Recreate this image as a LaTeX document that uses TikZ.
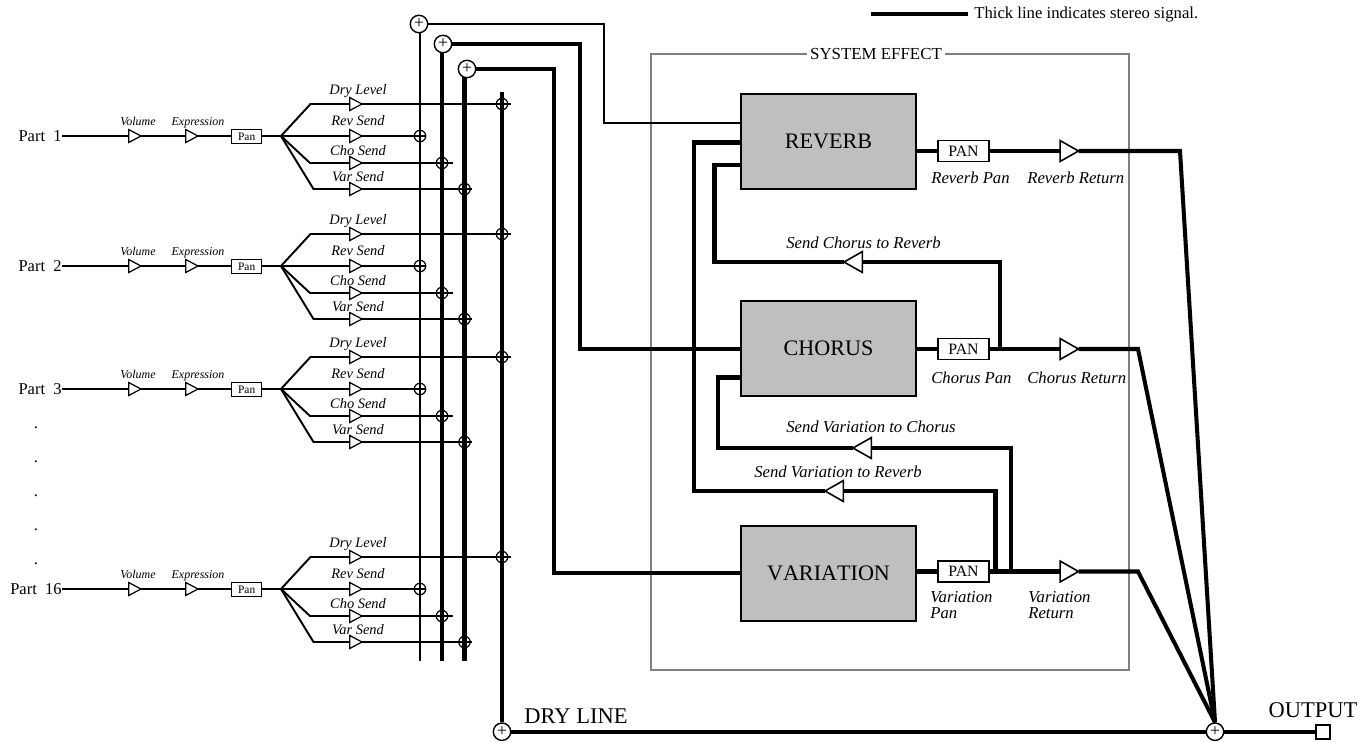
\documentclass[tikz,border=0pt]{standalone}
\usepackage{fontspec}
\setmainfont{Liberation Serif}
\usetikzlibrary{shapes.geometric}
\tikzset{
  wire/.style      = {line width=1.1pt},
  thickwire/.style = {line width=2.3pt},
  amp/.style       = {isosceles triangle, isosceles triangle stretches, draw, line width=0.7pt, fill=white,
                      inner sep=0pt, outer sep=0pt, minimum height=12.3*0.567pt, minimum width=13*0.567pt, anchor=apex},
  bigamp/.style    = {amp, line width=0.9pt, minimum height=18.5*0.567pt, minimum width=21*0.567pt},
  sum/.style       = {circle, draw, line width=0.8pt, fill=white, inner sep=0pt, minimum size=17.5*0.567pt,
                      font=\fontsize{10}{10}\selectfont},
  tap/.style       = {circle, draw, line width=0.7pt, inner sep=0pt, minimum size=11.5*0.567pt},
  fxblock/.style   = {draw, line width=1.0pt, fill=black!25, inner sep=0pt, minimum width=175*0.567pt,
                      minimum height=96*0.567pt, font=\fontsize{12.6}{12.6}\selectfont\addfontfeatures{Kerning=Off}},
  panbox/.style    = {draw, line width=1.0pt, fill=white, inner sep=0pt, minimum width=51*0.567pt,
                      minimum height=21*0.567pt, font=\fontsize{9}{9}\selectfont},
  smallpan/.style  = {draw, line width=0.7pt, fill=white, inner sep=0pt, minimum width=30*0.567pt,
                      minimum height=14*0.567pt, font=\fontsize{6.5}{6.5}\selectfont},
  partlabel/.style = {inner sep=0pt, anchor=east, font=\fontsize{9.4}{9.4}\selectfont},
  gainlabel/.style = {inner sep=0pt, text height=0.7em, text depth=0.22em, font=\fontsize{6.8}{6.8}\selectfont\itshape},
  sendlabel/.style = {inner sep=0pt, text height=0.7em, text depth=0.22em, font=\fontsize{8.2}{8.2}\selectfont\itshape},
  fxlabel/.style   = {inner sep=0pt, anchor=west, align=left, font=\fontsize{9.5}{9}\selectfont\itshape},
  biglabel/.style  = {inner sep=0pt, font=\fontsize{12.8}{12.8}\selectfont},
}

\begin{document}
\begin{tikzpicture}[x=0.02cm, y=-0.02cm]
  \useasboundingbox (0,0) rectangle (1360,741);

  % ---- legend ------------------------------------------------------------
  \coordinate (legendA) at (871,14);
  \node[inner sep=3.4pt, anchor=west, text height=0.7em, text depth=0.22em, font=\fontsize{9.5}{9.5}\selectfont]
       (legend) at (968,14) {Thick line indicates stereo signal.};
  \draw[thickwire] (legendA) -- (legend);

  % ---- system effect frame -----------------------------------------------
  \draw[line width=1.0pt, black!50] (651,54) rectangle (1129,670);
  \node[fill=white, inner sep=1.8pt, font=\fontsize{9.6}{9.6}\selectfont] (sysfx) at (876,54) {SYSTEM EFFECT};

  % ---- mix buses, drawn first so the sums sit on top ---------------------
  \coordinate (busrev)    at (420,24);
  \coordinate (busrevend) at (420,661);
  \coordinate (buscho)    at (442,43);
  \coordinate (buschoend) at (442,661);
  \coordinate (busvar)    at (464.5,69);
  \coordinate (busvarend) at (464.5,661);
  \coordinate (busdry)    at (502,92);
  \draw[wire] (busrev) -- (busrevend);
  \draw[thickwire] (buscho) -- (buschoend);
  \draw[thickwire] (busvar) -- (busvarend);

  \node[sum] (sumrev) at (419,24) {+};
  \node[sum] (sumcho) at (443,44) {+};
  \node[sum] (sumvar) at (467,69) {+};
  \node[sum] (sumdry) at (502,731.7) {+};
  \node[sum] (sumout) at (1215,731.7) {+};
  \draw[thickwire] (busdry) -- (sumdry);

  % ---- the effect blocks and their pans ----------------------------------
  \node[fxblock] (reverb)    at (828.5,141.5) {REVERB};
  \node[fxblock] (chorus)    at (828.5,348.5) {CHORUS};
  \node[fxblock] (variation) at (828.5,573.5) {VARIATION};

  \node[panbox] (panrev) at (963.5,151) {PAN};
  \node[panbox] (pancho) at (963.5,349) {PAN};
  \node[panbox] (panvar) at (963.5,571.5) {PAN};

  \node[bigamp] (retrev) at (1078.5,151) {};
  \node[bigamp] (retcho) at (1078.5,349) {};
  \node[bigamp] (retvar) at (1078.5,571.5) {};

  % ---- returns to the output ---------------------------------------------
  \coordinate (kneerev) at (1180,151);
  \coordinate (kneecho) at (1138,349);
  \coordinate (kneevar) at (1138,571.5);
  \foreach \fx/\blk in {rev/reverb,cho/chorus,var/variation} {
    \draw[thickwire] (\blk.east |- pan\fx) -- (pan\fx);
    \draw[thickwire] (pan\fx) -- (ret\fx);
    \draw[thickwire] (ret\fx) -- (knee\fx) -- (sumout.north);
  }
  \node[draw, line width=1.0pt, fill=white, inner sep=0pt, minimum size=14*0.567pt] (output) at (1323,731.7) {};
  \draw[thickwire] (sumdry) -- (sumout);
  \draw[thickwire] (sumout) -- (output);
  \node[biglabel] (drylabel) at (576,716) {DRY LINE};
  \node[biglabel] (outlabel) at (1313,710) {OUTPUT};

  % ---- from the buses into the blocks ------------------------------------
  \coordinate (revA) at (604,24);
  \coordinate (revB) at (604,123);
  \draw[wire] (sumrev) -- (revA) -- (revB) -- (reverb.west |- revB);
  \coordinate (choA) at (580,44);
  \coordinate (choB) at (580,349);
  \draw[thickwire] (sumcho) -- (choA) -- (choB) -- (chorus.west |- choB);
  \coordinate (varA) at (554,69);
  \coordinate (varB) at (554,573);
  \draw[thickwire] (sumvar) -- (varA) -- (varB) -- (variation.west |- varB);

  % ---- sends between the effects -----------------------------------------
  \node[bigamp, shape border rotate=180] (sendcr) at (844,262) {};
  \coordinate (crA) at (1000,349);
  \coordinate (crB) at (1000,262);
  \coordinate (crC) at (714.5,262);
  \coordinate (crD) at (714.5,165);
  \draw[thickwire] (crA) -- (crB) -- (sendcr);
  \draw[thickwire] (sendcr) -- (crC) -- (crD) -- (reverb.west |- crD);

  \node[bigamp, shape border rotate=180] (sendvc) at (853,448) {};
  \coordinate (vcA) at (1011,571.5);
  \coordinate (vcB) at (1011,448);
  \coordinate (vcC) at (718,448);
  \coordinate (vcD) at (718,377.5);
  \draw[thickwire] (vcA) -- (vcB) -- (sendvc);
  \draw[thickwire] (sendvc) -- (vcC) -- (vcD) -- (chorus.west |- vcD);

  \node[bigamp, shape border rotate=180] (sendvr) at (825,491) {};
  \coordinate (vrA) at (995.5,571.5);
  \coordinate (vrB) at (995.5,491);
  \coordinate (vrC) at (694,491);
  \coordinate (vrD) at (694,142.5);
  \draw[thickwire] (vrA) -- (vrB) -- (sendvr);
  \draw[thickwire] (sendvr) -- (vrC) -- (vrD) -- (reverb.west |- vrD);

  % ---- effect labels -----------------------------------------------------
  \node[fxlabel] (lblrp) at (931,178) {Reverb Pan};
  \node[fxlabel] (lblrr) at (1027,178) {Reverb Return};
  \node[fxlabel] (lblcp) at (931,378) {Chorus Pan};
  \node[fxlabel] (lblcr) at (1027,378) {Chorus Return};
  \node[fxlabel] (lblvp) at (930,605) {Variation\\Pan};
  \node[fxlabel] (lblvr) at (1028,605) {Variation\\Return};
  \node[fxlabel] (lblcrs) at (786,243) {Send Chorus to Reverb};
  \node[fxlabel] (lblvcs) at (786,427) {Send Variation to Chorus};
  \node[fxlabel] (lblvrs) at (754,472) {Send Variation to Reverb};

  % ---- one strip per part ------------------------------------------------
  \foreach \row/\ypos/\partname in {1/136/Part~~1, 2/266/Part~~2, 3/389/Part~~3, 16/589/Part~~16} {
    \node[partlabel] (part\row) at (62,\ypos) {\partname};
    \node[amp] (vol\row) at (141,\ypos) {};
    \node[amp] (exp\row) at (198,\ypos) {};
    \node[smallpan] (pan\row) at (246.7,\ypos+0.5) {Pan};
    \coordinate (split\row) at (281,\ypos);
    \draw[wire] (part\row) -- (vol\row);
    \draw[wire] (vol\row) -- (exp\row);
    \draw[wire] (exp\row) -- (pan\row.west |- exp\row);
    \draw[wire] (pan\row.east |- split\row) -- (split\row);
    \node[gainlabel] (lblvol\row) at (138,\ypos-14.5) {Volume};
    \node[gainlabel] (lblexp\row) at (198,\ypos-14.5) {Expression};

    \foreach \send/\dy/\knee/\bus/\stop/\sendname/\ly in {
        dry/-32/310.5/502/510.5/Dry Level/-45.5,
        rev/0/310.5/420/425.5/Rev Send/-15,
        cho/27/310/442/452.5/Cho Send/15,
        var/53/313.5/464.5/472/Var Send/41.5} {
      \node[amp] (\send amp\row) at (362,\ypos+\dy) {};
      \coordinate (\send knee\row) at (\knee,\ypos+\dy);
      \coordinate (\send end\row) at (\stop,\ypos+\dy);
      \node[tap] (\send tap\row) at (\bus,\ypos+\dy) {};
      \draw[wire] (split\row) -- (\send knee\row) -- (\send amp\row);
      \draw[wire] (\send amp\row) -- (\send end\row);
      \node[sendlabel] (\send lbl\row) at (358,\ypos+\ly) {\sendname};
    }
  }

  % ---- the dots between part 3 and part 16 -------------------------------
  \foreach \d/\ypos in {1/428.7,2/462.7,3/496.7,4/530.7,5/564.7} {
    \node[inner sep=0pt, anchor=base, font=\fontsize{9.4}{9.4}\selectfont] (dot\d) at (36,\ypos) {.};
  }
\end{tikzpicture}
\end{document}
